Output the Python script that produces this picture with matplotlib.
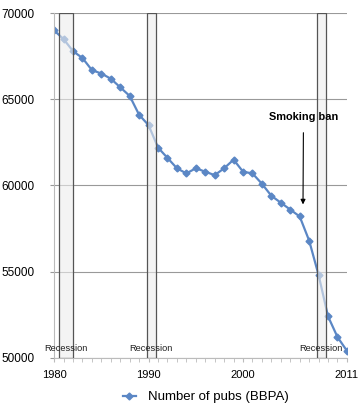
import matplotlib
matplotlib.use("Agg")
import matplotlib.pyplot as plt
from matplotlib.patches import Rectangle

plt.rcParams['font.family'] = ['Liberation Sans', 'DejaVu Sans']

years = list(range(1980, 2012))
pubs = [69000, 68500, 67800, 67400, 66700, 66500, 66200, 65700, 65200, 64100,
        63500, 62200, 61600, 61000, 60700, 61000, 60800, 60600, 61000, 61500,
        60800, 60700, 60100, 59400, 59000, 58600, 58200, 56800, 54800, 52400,
        51200, 50400]
recessions = [(1980.5, 1982.0), (1989.8, 1990.8), (2007.8, 2008.8)]
recession_label = "Recession"
series_label = "Number of pubs (BBPA)"
annotation_text = "Smoking ban"
yticks = [50000, 55000, 60000, 65000, 70000]
xticks = [1980, 1990, 2000, 2011]

fig = plt.figure(figsize=(3.61, 4.11), dpi=100)
ax = fig.add_axes([0.150, 0.1297, 0.811, 0.838])

line_color = '#5b87c5'
ax.plot(years, pubs, color=line_color, lw=1.6, marker='D', ms=3.5,
        mec=line_color, mfc=line_color, zorder=2, label=series_label)

for x0, x1 in recessions:
    ax.add_patch(Rectangle((x0, 50000), x1 - x0, 20000, facecolor='#eeeeee',
                           alpha=0.6, edgecolor='none', zorder=3))
    ax.add_patch(Rectangle((x0, 50000), x1 - x0, 20000, facecolor='none',
                           edgecolor='#555555', lw=0.9, zorder=4))
    ax.text((x0 + x1) / 2, 50250, recession_label, ha='center', va='bottom',
            fontsize=6.7, color='#222222', zorder=5)

ax.annotate(annotation_text, xy=(2006.35, 58900), xytext=(2006.4, 64000),
            ha='center', va='center', fontsize=7.9, fontweight='bold',
            arrowprops=dict(arrowstyle='-|>', color='black', lw=0.8,
                            shrinkA=6, shrinkB=0, mutation_scale=7),
            zorder=6)

ax.set_xlim(1980, 2011)
ax.set_ylim(50000, 70000)
ax.set_yticks(yticks)
ax.set_xticks(xticks)
ax.set_xticks(years, minor=True)
ax.grid(axis='y', color='#999999', lw=0.8, zorder=0)
ax.set_axisbelow(True)
for s in ['top', 'right']:
    ax.spines[s].set_visible(False)
for s in ['left', 'bottom']:
    ax.spines[s].set_color('#bbbbbb')
    ax.spines[s].set_linewidth(0.8)
ax.tick_params(axis='y', length=3, color='#999999', labelsize=8.5, pad=11)
ax.tick_params(axis='x', which='major', length=3, color='#bbbbbb', labelsize=8, pad=6)
ax.tick_params(axis='x', which='minor', length=3, color='#bbbbbb')

leg = fig.legend(loc='lower center', bbox_to_anchor=(0.57, -0.01), frameon=False,
                 fontsize=9.5, handlelength=1.0, handletextpad=0.9)

fig.savefig('out.png', dpi=100)
